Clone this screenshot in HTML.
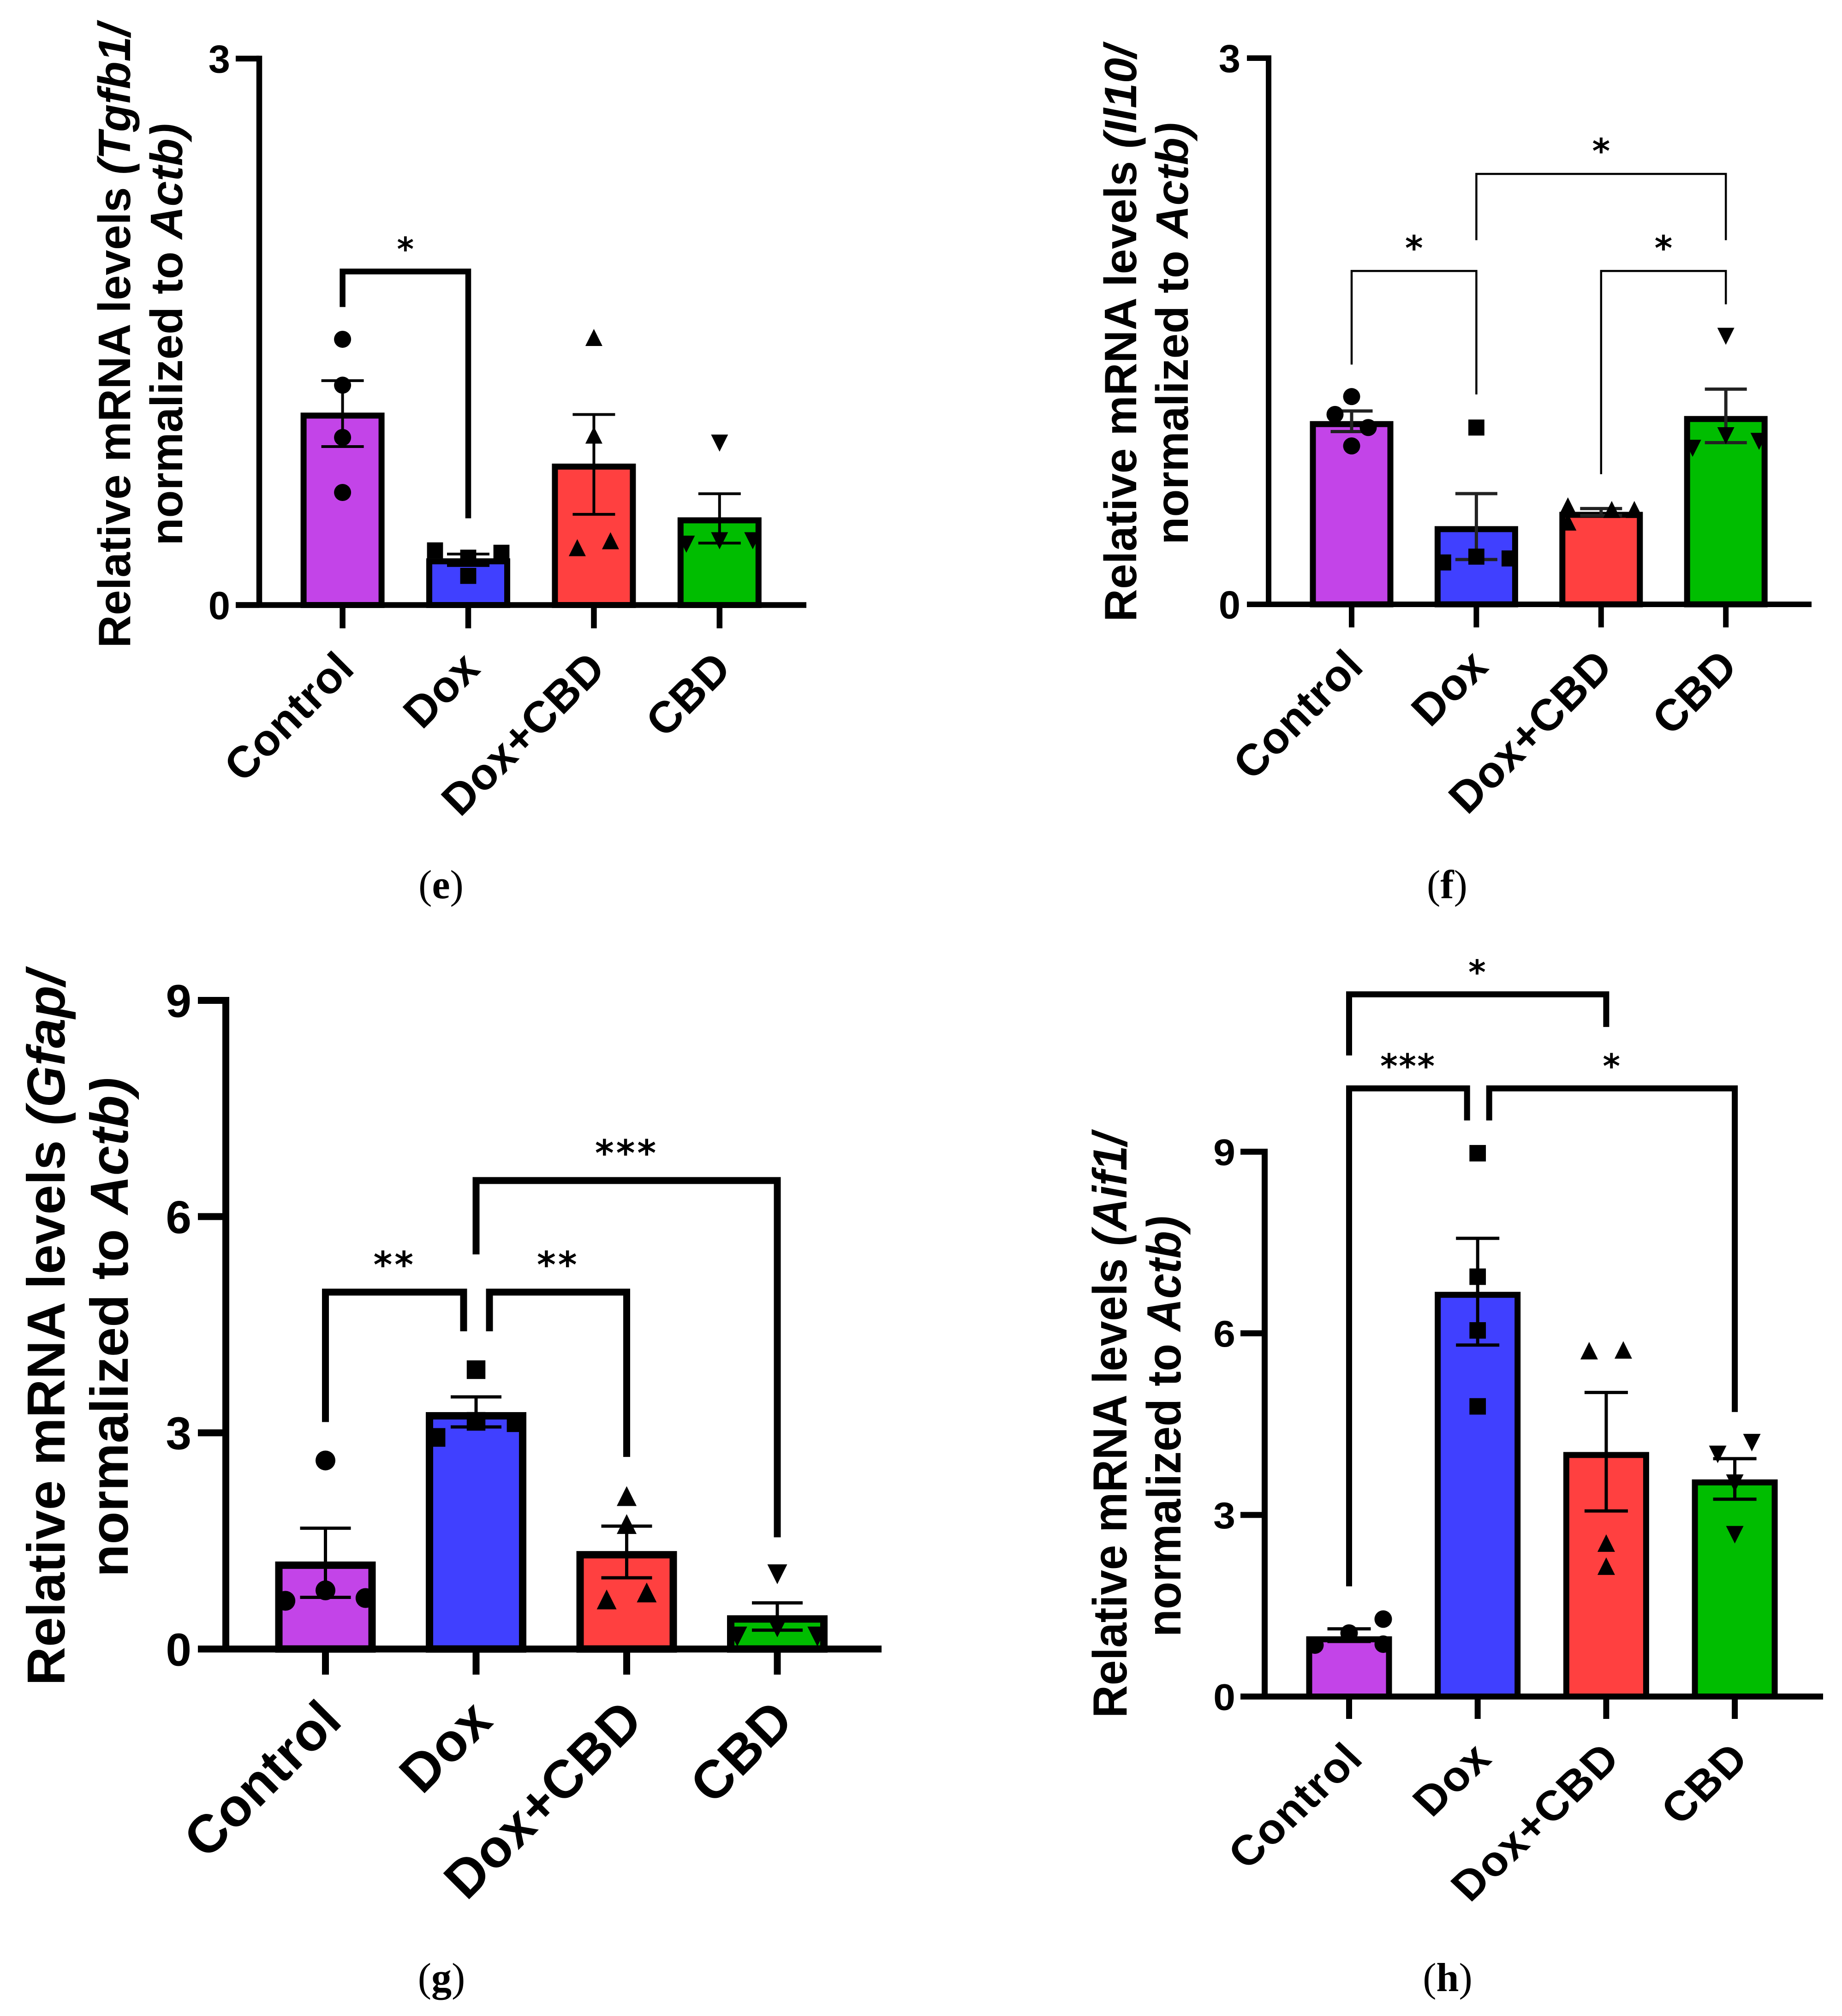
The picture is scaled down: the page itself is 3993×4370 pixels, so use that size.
<!DOCTYPE html>
<html lang="en">
<head>
<meta charset="utf-8">
<title>Relative mRNA levels panels e-h</title>
<style>
html,body{margin:0;padding:0;background:#fff;}
svg{display:block;}
text{font-family:"Liberation Sans",Arial,sans-serif;font-weight:700;fill:#000;}
.cap{font-family:"Liberation Serif","Times New Roman",serif;font-weight:400;font-size:88px;text-anchor:middle;}
.cap tspan{font-weight:700;}
.ttl{text-anchor:middle;}
.star{font-family:"DejaVu Sans",sans-serif;font-weight:700;}
</style>
</head>
<body>
<svg id="figure" xmlns="http://www.w3.org/2000/svg" width="3993" height="4370" viewBox="0 0 3993 4370">
<rect x="0" y="0" width="3993" height="4370" fill="#fff"/>

<g id="panel-e">
<text class="ttl" font-size="98" transform="translate(282,728) rotate(-90)">Relative mRNA levels <tspan font-style="italic">(Tgfb1/</tspan></text>
<text class="ttl" font-size="98" transform="translate(395,725) rotate(-90)">normalized to <tspan font-style="italic">Actb)</tspan></text>
<text class="cap" x="956" y="1947">(<tspan>e</tspan>)</text>
</g>

<g id="panel-f">
<text class="ttl" font-size="98" transform="translate(2463,723) rotate(-90)">Relative mRNA levels <tspan font-style="italic">(Il10/</tspan></text>
<text class="ttl" font-size="98" transform="translate(2575,723) rotate(-90)">normalized to <tspan font-style="italic">Actb)</tspan></text>
<text class="cap" x="3137" y="1947">(<tspan>f</tspan>)</text>
</g>

<g id="panel-g">
<text class="ttl" font-size="116" transform="translate(140,2879) rotate(-90)">Relative mRNA levels <tspan font-style="italic">(Gfap/</tspan></text>
<text class="ttl" font-size="116" transform="translate(277,2877) rotate(-90)">normalized to <tspan font-style="italic">Actb)</tspan></text>
<text class="cap" x="957" y="4316">(<tspan>g</tspan>)</text>
</g>

<g id="panel-h">
<text class="ttl" font-size="104" transform="translate(2442,3090) scale(1,0.94) rotate(-90)">Relative mRNA levels <tspan font-style="italic">(Aif1/</tspan></text>
<text class="ttl" font-size="104" transform="translate(2559,3092) scale(1,0.94) rotate(-90)">normalized to <tspan font-style="italic">Actb)</tspan></text>
<text class="cap" x="3138" y="4316">(<tspan>h</tspan>)</text>
</g>
</svg>

<script>
const categories = ['Control', 'Dox', 'Dox+CBD', 'CBD'];

/* Panel e: Tgfb1 */
const eTicks = [0, 3];
const eMeans = [1.04, 0.24, 0.76, 0.465];
const eErrHigh = [1.232, 0.28, 1.046, 0.611];
const eErrLow = [0.87, 0.217, 0.498, 0.34];
const ePoints = [[1.459, 1.207, 0.92, 0.618], [0.30, 0.26, 0.16, 0.287], [1.469, 0.933, 0.315, 0.353], [0.889, 0.334, 0.353, 0.353]];
const eJitter = [[0, 0, 0, 0], [-2, 0, 0, 2], [0, 0, -1, 1], [0, -2, 0, 2]];
const eBracketFrom = [0];
const eBracketTo = [1];
const eBracketTop = [1.831];
const eBracketDropLeft = [1.636];
const eBracketDropRight = [0.476];
const eBracketStars = ['*'];

/* Panel f: Il10 */
const fTicks = [0, 3];
const fMeans = [0.99, 0.413, 0.4916, 1.018];
const fErrHigh = [1.062, 0.608, 0.526, 1.182];
const fErrLow = [0.949, 0.246, 0.488, 0.888];
const fPoints = [[1.141, 1.043, 0.971, 0.87], [0.971, 0.23, 0.262, 0.252], [0.541, 0.452, 0.521, 0.521], [1.472, 0.926, 0.857, 0.895]];
const fJitter = [[0, -1, 1, 0], [0, -2, 0, 2], [-2, -2, 0.64, 2], [0, 0, -2, 2]];
const fBracketFrom = [0, 1, 2];
const fBracketTo = [1, 3, 3];
const fBracketTop = [1.831, 2.364, 1.831];
const fBracketDropLeft = [1.317, 2.0, 0.715];
const fBracketDropRight = [1.153, 2.0, 1.648];
const fBracketStars = ['*', '*', '*'];

/* Panel g: Gfap */
const gTicks = [0, 3, 6, 9];
const gMeans = [1.163, 3.236, 1.308, 0.417];
const gErrHigh = [1.676, 3.498, 1.705, 0.64];
const gErrLow = [0.717, 3.081, 0.988, 0.262];
const gPoints = [[2.616, 0.814, 0.669, 0.707], [3.876, 3.159, 2.936, 3.14], [2.122, 1.734, 0.688, 0.785], [1.037, 0.3, 0.174, 0.174]];
const gJitter = [[0, 0, -2, 2], [0, 0, -2, 2], [0, 0, -1, 1], [0, 0, -2, 2]];
const gBracketFrom = [0, 1, 1];
const gBracketTo = [1, 2, 3];
const gBracketTop = [4.952, 4.952, 6.5];
const gBracketDropLeft = [3.149, 4.409, 5.475];
const gBracketDropRight = [4.409, 2.665, 1.55];
const gBracketStars = ['**', '**', '***'];

/* Panel h: Aif1 */
const hTicks = [0, 3, 6, 9];
const hMeans = [0.945, 6.636, 3.99, 3.537];
const hErrHigh = [1.118, 7.569, 5.023, 3.929];
const hErrLow = [0.91, 5.806, 3.065, 3.26];
const hPoints = [[1.048, 1.279, 0.85, 0.865], [8.975, 6.935, 6.048, 4.793], [5.714, 5.726, 2.535, 2.154], [4.194, 4.0, 3.525, 2.673]];
const hJitter = [[0, 2, -2, 2], [0, 0, 0, 0], [-1, 1, 0, 0], [1, -1, 0, 0]];
const hBracketFrom = [0, 1, 0];
const hBracketTo = [1, 3, 2];
const hBracketTop = [10.046, 10.046, 11.6];
const hBracketDropLeft = [1.82, 9.516, 10.59];
const hBracketDropRight = [9.516, 4.7, 11.06];
const hBracketStars = ['***', '*', '*'];

const barFills = ['#C344E8', '#4040FF', '#FF4040', '#00BD00'];
const SVGNS = 'http://www.w3.org/2000/svg';

function mk(parent, tag, attrs) {
  const el = document.createElementNS(SVGNS, tag);
  for (const k in attrs) el.setAttribute(k, attrs[k]);
  parent.appendChild(el);
  return el;
}

function slug(s) {
  return s.toLowerCase().replace(/\+/g, '-');
}

function drawPanel(id, L, ticks, means, errHigh, errLow, points, jitter, bFrom, bTo, bTop, bDropL, bDropR, bStars) {
  const root = document.getElementById(id);
  const yUnit = (L.y0 - L.yTop) / L.yMax;
  const sy = v => L.y0 - v * yUnit;
  const sx = i => L.x0 + i * L.step;

  /* bars, error bars and data markers */
  categories.forEach((cat, i) => {
    const g = mk(root, 'g', {});
    
    

    const bar = mk(g, 'rect', {
      x: sx(i) - L.barW / 2, y: sy(means[i]), width: L.barW, height: L.y0 - sy(means[i]),
      fill: barFills[i], stroke: '#000', 'stroke-width': L.barS
    });
    
    

    const err = mk(g, 'path', {
      d: 'M' + (sx(i) - L.capW / 2) + ' ' + sy(errHigh[i]) + 'H' + (sx(i) + L.capW / 2) +
         'M' + (sx(i) - L.capW / 2) + ' ' + sy(errLow[i]) + 'H' + (sx(i) + L.capW / 2) +
         'M' + sx(i) + ' ' + sy(errHigh[i]) + 'V' + sy(errLow[i]),
      fill: 'none', stroke: L.errC, 'stroke-width': L.errS
    });
    
    

    points[i].forEach((v, j) => {
      const cx = sx(i) + jitter[i][j] * L.slot;
      const cy = sy(v);
      const m = L.ms;
      let p;
      if (i === 0) {
        p = mk(g, 'circle', { cx: cx, cy: cy, r: m / 2, fill: '#000' });
      } else if (i === 1) {
        p = mk(g, 'rect', { x: cx - m * 0.47, y: cy - m * 0.47, width: m * 0.94, height: m * 0.94, fill: '#000' });
      } else if (i === 2) {
        p = mk(g, 'path', { d: 'M' + cx + ' ' + (cy - m / 2) + 'L' + (cx + m / 2) + ' ' + (cy + m / 2) + 'L' + (cx - m / 2) + ' ' + (cy + m / 2) + 'Z', fill: '#000' });
      } else {
        p = mk(g, 'path', { d: 'M' + cx + ' ' + (cy + m / 2) + 'L' + (cx + m / 2) + ' ' + (cy - m / 2) + 'L' + (cx - m / 2) + ' ' + (cy - m / 2) + 'Z', fill: '#000' });
      }
      
      
    });
  });

  /* axes */
  const yAxis = mk(root, 'path', {
    d: 'M' + L.axisX + ' ' + (L.yTop - L.axS / 2) + 'V' + L.y0,
    fill: 'none', stroke: '#000', 'stroke-width': L.axS
  });
  
  

  const xAxis = mk(root, 'path', {
    d: 'M' + L.tickLeft + ' ' + L.y0 + 'H' + L.axisRight,
    fill: 'none', stroke: '#000', 'stroke-width': L.axS
  });
  
  

  ticks.forEach(t => {
    const tk = mk(root, 'path', {
      d: 'M' + L.tickLeft + ' ' + sy(t) + 'H' + L.axisX,
      fill: 'none', stroke: '#000', 'stroke-width': L.axS
    });
    
    

    const lb = mk(root, 'text', {
      'font-size': L.tickFont, 'text-anchor': 'end',
      transform: 'translate(' + L.tickLabelX + ',' + (sy(t) + 0.358 * L.tickFont * L.textSy) + ') scale(1,' + L.textSy + ')'
    });
    lb.textContent = String(t);
    
    
  });

  categories.forEach((cat, i) => {
    const tk = mk(root, 'path', {
      d: 'M' + sx(i) + ' ' + L.y0 + 'V' + L.tickBottom,
      fill: 'none', stroke: '#000', 'stroke-width': L.axS
    });
    
    

    const lb = mk(root, 'text', {
      'font-size': L.catFont, 'text-anchor': 'end', 'letter-spacing': L.catGap,
      transform: 'translate(' + (sx(i) + L.catDx) + ',' + (L.y0 + L.catDy) + ') scale(1,' + L.textSy + ') rotate(-45)'
    });
    lb.textContent = cat;
    
    
  });

  /* significance brackets */
  bFrom.forEach((from, k) => {
    const shift = L.legShift[k];
    const xl = sx(from) + shift[0];
    const xr = sx(bTo[k]) + shift[1];
    const br = mk(root, 'path', {
      d: 'M' + xl + ' ' + sy(bDropL[k]) + 'V' + sy(bTop[k]) + 'H' + xr + 'V' + sy(bDropR[k]),
      fill: 'none', stroke: '#000', 'stroke-width': L.brS, 'stroke-linejoin': 'miter'
    });
    
    

    const st = mk(root, 'text', {
      class: 'star', 'font-size': L.starFont, 'text-anchor': 'middle', 'letter-spacing': L.starGap,
      x: (xl + xr) / 2, y: sy(bTop[k]) - L.starLift
    });
    st.textContent = bStars[k];
    
    
  });
}

drawPanel('panel-e', {
  x0: 742.6, step: 272.4, y0: 1311.5, yTop: 127, yMax: 3, axisX: 562, tickLeft: 511, axisRight: 1748, tickBottom: 1362,
  axS: 12.5, barW: 169, barS: 13, capW: 92, errS: 6, errC: '#000', slot: 36, ms: 37,
  tickFont: 85, tickLabelX: 499, catFont: 96, catGap: 1, catDx: 30, catDy: 142, textSy: 1,
  brS: 12.5, starFont: 70, starGap: 0, starLift: 24, legShift: [[0, 0]]
}, eTicks, eMeans, eErrHigh, eErrLow, ePoints, eJitter, eBracketFrom, eBracketTo, eBracketTop, eBracketDropLeft, eBracketDropRight, eBracketStars);

drawPanel('panel-f', {
  x0: 2930, step: 270.4, y0: 1310, yTop: 126, yMax: 3, axisX: 2750, tickLeft: 2703, axisRight: 3927, tickBottom: 1360,
  axS: 12, barW: 168, barS: 13, capW: 91, errS: 7, errC: '#222', slot: 36, ms: 37,
  tickFont: 85, tickLabelX: 2689, catFont: 96, catGap: 1, catDx: 30, catDy: 139, textSy: 1,
  brS: 4.5, starFont: 74, starGap: 0, starLift: 24, legShift: [[0, 0], [0, 0], [0, 0]]
}, fTicks, fMeans, fErrHigh, fErrLow, fPoints, fJitter, fBracketFrom, fBracketTo, fBracketTop, fBracketDropLeft, fBracketDropRight, fBracketStars);

drawPanel('panel-g', {
  x0: 705.5, step: 326.5, y0: 3574.5, yTop: 2168.5, yMax: 9, axisX: 489.5, tickLeft: 429, axisRight: 1911, tickBottom: 3630,
  axS: 15, barW: 202, barS: 16, capW: 110, errS: 7, errC: '#000', slot: 43.4, ms: 43,
  tickFont: 100, tickLabelX: 415, catFont: 116, catGap: 1.5, catDx: 41, catDy: 160, textSy: 1,
  brS: 15, starFont: 78, starGap: 5, starLift: 32, legShift: [[0, -27], [29, 0], [0, 0]]
}, gTicks, gMeans, gErrHigh, gErrLow, gPoints, gJitter, gBracketFrom, gBracketTo, gBracketTop, gBracketDropLeft, gBracketDropRight, gBracketStars);

drawPanel('panel-h', {
  x0: 2924.5, step: 278.7, y0: 3677.5, yTop: 2496.5, yMax: 9, axisX: 2741.5, tickLeft: 2689, axisRight: 3952, tickBottom: 3726,
  axS: 13, barW: 173, barS: 13, capW: 94, errS: 7, errC: '#000', slot: 37, ms: 38,
  tickFont: 86, tickLabelX: 2678, catFont: 97, catGap: 2.5, catDx: 35, catDy: 138, textSy: 0.94,
  brS: 13, starFont: 72, starGap: 2.5, starLift: 23, legShift: [[0, -23], [25, 0], [0, 0]]
}, hTicks, hMeans, hErrHigh, hErrLow, hPoints, hJitter, hBracketFrom, hBracketTo, hBracketTop, hBracketDropLeft, hBracketDropRight, hBracketStars);
</script>
</body>
</html>
